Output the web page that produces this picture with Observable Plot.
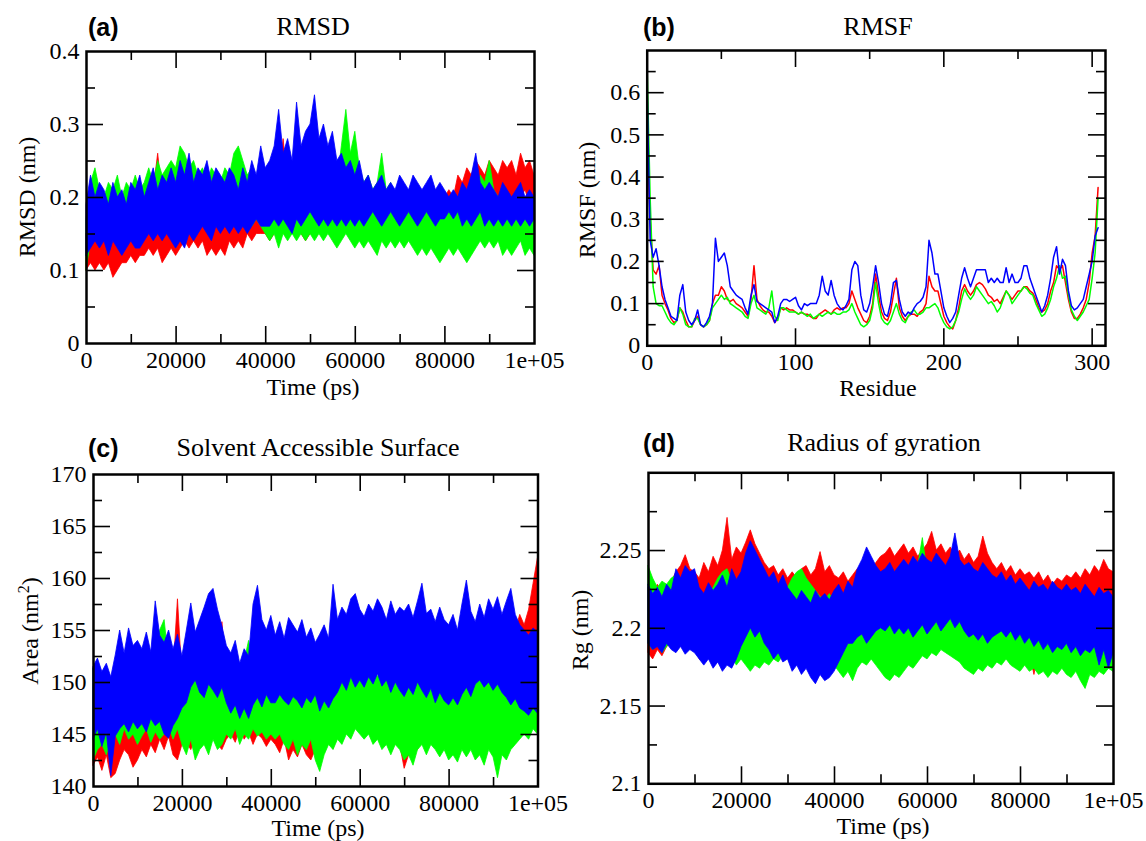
<!DOCTYPE html>
<html><head><meta charset="utf-8">
<script src="https://cdn.jsdelivr.net/npm/d3@7"></script>
<script src="https://cdn.jsdelivr.net/npm/@observablehq/plot@0.6"></script>
<style>
body{margin:0;background:#fff;}
#root{position:relative;width:1146px;height:841px;overflow:hidden;background:#fff;font-family:"Liberation Serif","Times New Roman",serif;color:#000;}
.p{position:absolute;}
.p svg{font-family:"Liberation Serif","Times New Roman",serif !important;}
.t{position:absolute;white-space:nowrap;line-height:1;transform:translate(-50%,-50%);}
.ttl{font-size:26px;}
.ax{font-size:24px;}
.yl{transform:translate(-50%,-50%) rotate(-90deg);}
.lt{position:absolute;white-space:nowrap;line-height:1;font-family:"Liberation Sans",Arial,sans-serif;font-weight:bold;font-size:25px;transform:translate(0,-50%);}
</style></head><body><div id="root"></div>
<script>
// ---------- shared axes ----------
const time = [0,1000,2000,3000,4000,5000,6000,7000,8000,9000,10000,11000,12000,13000,14000,15000,16000,17000,18000,19000,20000,21000,22000,23000,24000,25000,26000,27000,28000,29000,30000,31000,32000,33000,34000,35000,36000,37000,38000,39000,40000,41000,42000,43000,44000,45000,46000,47000,48000,49000,50000,51000,52000,53000,54000,55000,56000,57000,58000,59000,60000,61000,62000,63000,64000,65000,66000,67000,68000,69000,70000,71000,72000,73000,74000,75000,76000,77000,78000,79000,80000,81000,82000,83000,84000,85000,86000,87000,88000,89000,90000,91000,92000,93000,94000,95000,96000,97000,98000,99000,100000];
const residue = [0,2,4,6,8,10,12,14,16,18,20,22,24,26,28,30,32,34,36,38,40,42,44,46,48,50,52,54,56,58,60,62,64,66,68,70,72,74,76,78,80,82,84,86,88,90,92,94,96,98,100,102,104,106,108,110,112,114,116,118,120,122,124,126,128,130,132,134,136,138,140,142,144,146,148,150,152,154,156,158,160,162,164,166,168,170,172,174,176,178,180,182,184,186,188,190,192,194,196,198,200,202,204,206,208,210,212,214,216,218,220,222,224,226,228,230,232,234,236,238,240,242,244,246,248,250,252,254,256,258,260,262,264,266,268,270,272,274,276,278,280,282,284,286,288,290,292,294,296,298,300,302,304];

// ---------- (a) RMSD (nm): upper / lower extent per 1000 ps ----------
const rmsdRedHi = [0.15,0.14,0.16,0.15,0.14,0.13,0.14,0.15,0.13,0.15,0.16,
0.17,0.18,0.20,0.19,0.21,0.26,0.20,0.22,0.19,0.20,
0.19,0.21,0.20,0.19,0.21,0.20,0.19,0.20,0.18,0.20,
0.19,0.20,0.21,0.19,0.20,0.19,0.20,0.21,0.20,0.21,
0.20,0.21,0.22,0.28,0.21,0.22,0.25,0.21,0.20,0.21,
0.20,0.21,0.20,0.21,0.20,0.19,0.20,0.21,0.20,0.19,
0.20,0.21,0.19,0.20,0.21,0.20,0.21,0.20,0.21,0.20,
0.21,0.20,0.21,0.20,0.21,0.20,0.20,0.21,0.20,0.20,
0.21,0.20,0.23,0.22,0.24,0.23,0.25,0.24,0.23,0.25,
0.24,0.23,0.25,0.24,0.25,0.23,0.26,0.24,0.25,0.23];
const rmsdRedLo = [0.10,0.11,0.10,0.11,0.10,0.11,0.09,0.10,0.11,0.11,0.12,
0.11,0.12,0.12,0.13,0.12,0.13,0.11,0.12,0.13,0.12,
0.13,0.14,0.13,0.14,0.13,0.14,0.12,0.13,0.12,0.13,
0.12,0.14,0.13,0.14,0.13,0.15,0.14,0.15,0.15,0.15,
0.14,0.15,0.16,0.15,0.16,0.15,0.16,0.15,0.14,0.15,
0.15,0.16,0.15,0.16,0.15,0.16,0.15,0.16,0.15,0.16,
0.16,0.17,0.16,0.17,0.16,0.17,0.16,0.17,0.16,0.17,
0.17,0.16,0.17,0.16,0.17,0.16,0.17,0.16,0.15,0.16,
0.17,0.18,0.17,0.19,0.18,0.19,0.20,0.19,0.20,0.19,
0.20,0.19,0.20,0.19,0.20,0.19,0.20,0.21,0.19,0.20];
const rmsdGreenHi = [0.17,0.22,0.24,0.21,0.20,0.22,0.21,0.23,0.20,0.22,0.21,
0.23,0.21,0.22,0.24,0.22,0.25,0.23,0.24,0.25,0.24,
0.27,0.26,0.24,0.25,0.23,0.24,0.22,0.24,0.23,0.22,
0.24,0.23,0.26,0.27,0.25,0.23,0.24,0.22,0.23,0.21,
0.20,0.21,0.20,0.22,0.21,0.20,0.21,0.22,0.21,0.20,
0.21,0.20,0.22,0.21,0.23,0.22,0.27,0.32,0.26,0.29,
0.24,0.22,0.23,0.21,0.22,0.26,0.21,0.22,0.20,0.21,
0.20,0.21,0.20,0.19,0.21,0.20,0.19,0.18,0.19,0.18,
0.19,0.18,0.20,0.19,0.18,0.20,0.21,0.23,0.22,0.25,
0.21,0.20,0.19,0.20,0.19,0.20,0.18,0.19,0.18,0.17];
const rmsdGreenLo = [0.10,0.14,0.15,0.16,0.15,0.16,0.15,0.16,0.15,0.16,0.15,
0.16,0.15,0.16,0.17,0.16,0.17,0.16,0.17,0.16,0.17,
0.16,0.17,0.16,0.17,0.16,0.17,0.16,0.17,0.16,0.17,
0.17,0.16,0.17,0.16,0.17,0.17,0.16,0.17,0.16,0.15,
0.14,0.15,0.13,0.15,0.14,0.15,0.14,0.15,0.14,0.15,
0.14,0.15,0.14,0.15,0.14,0.13,0.14,0.15,0.14,0.13,
0.14,0.13,0.14,0.13,0.12,0.14,0.13,0.14,0.13,0.14,
0.13,0.14,0.13,0.12,0.13,0.12,0.13,0.12,0.11,0.12,
0.13,0.12,0.13,0.12,0.11,0.12,0.13,0.14,0.13,0.14,
0.13,0.14,0.12,0.13,0.12,0.13,0.14,0.12,0.13,0.12];
const rmsdBlueHi = [0.19,0.23,0.20,0.22,0.21,0.19,0.22,0.20,0.21,0.19,0.22,
0.21,0.23,0.20,0.22,0.24,0.21,0.23,0.22,0.24,0.22,
0.25,0.23,0.26,0.22,0.24,0.23,0.25,0.22,0.24,0.23,
0.22,0.24,0.23,0.21,0.24,0.22,0.25,0.23,0.27,0.24,
0.25,0.27,0.32,0.26,0.28,0.25,0.33,0.27,0.29,0.30,
0.34,0.28,0.30,0.27,0.29,0.25,0.26,0.24,0.25,0.23,
0.25,0.22,0.23,0.21,0.22,0.23,0.21,0.22,0.21,0.23,
0.22,0.21,0.23,0.22,0.21,0.22,0.23,0.21,0.22,0.21,
0.20,0.21,0.20,0.22,0.21,0.23,0.26,0.22,0.21,0.22,
0.21,0.20,0.22,0.21,0.20,0.21,0.22,0.20,0.21,0.20];
const rmsdBlueLo = [0.12,0.13,0.14,0.13,0.14,0.12,0.14,0.13,0.12,0.13,0.14,
0.13,0.13,0.14,0.15,0.14,0.15,0.14,0.15,0.14,0.13,
0.14,0.13,0.15,0.14,0.15,0.16,0.15,0.14,0.16,0.15,
0.16,0.15,0.16,0.15,0.16,0.15,0.16,0.17,0.16,0.16,
0.16,0.17,0.16,0.17,0.16,0.15,0.17,0.16,0.17,0.18,
0.17,0.16,0.17,0.16,0.17,0.16,0.17,0.16,0.17,0.16,
0.17,0.16,0.17,0.18,0.17,0.16,0.17,0.18,0.17,0.16,
0.17,0.18,0.17,0.16,0.17,0.18,0.17,0.16,0.17,0.17,
0.18,0.17,0.18,0.16,0.17,0.16,0.17,0.18,0.16,0.17,
0.16,0.17,0.16,0.17,0.16,0.17,0.16,0.17,0.16,0.17];

// ---------- (b) RMSF (nm) per residue ----------
const rmsfRed = [0.50,0.30,0.18,0.17,0.19,0.12,0.10,0.085,0.065,0.055,
0.06,0.09,0.08,0.06,0.045,0.045,0.06,0.07,0.05,0.045,
0.05,0.06,0.10,0.12,0.12,0.14,0.13,0.11,0.105,0.11,
0.10,0.095,0.09,0.08,0.07,0.11,0.19,0.11,0.095,0.085,
0.08,0.08,0.07,0.055,0.065,0.09,0.085,0.09,0.085,0.085,
0.08,0.075,0.08,0.075,0.075,0.07,0.065,0.065,0.075,0.08,
0.085,0.08,0.075,0.085,0.09,0.085,0.09,0.09,0.10,0.13,
0.11,0.09,0.075,0.06,0.055,0.07,0.10,0.17,0.12,0.08,
0.065,0.06,0.08,0.12,0.16,0.09,0.07,0.06,0.07,0.075,
0.075,0.07,0.08,0.085,0.10,0.165,0.14,0.13,0.13,0.10,
0.07,0.055,0.045,0.04,0.06,0.09,0.13,0.145,0.13,0.12,
0.13,0.145,0.15,0.145,0.135,0.12,0.115,0.105,0.11,0.10,
0.115,0.13,0.12,0.11,0.12,0.13,0.13,0.14,0.14,0.13,
0.125,0.11,0.09,0.08,0.085,0.10,0.13,0.15,0.19,0.18,
0.19,0.15,0.11,0.08,0.065,0.065,0.075,0.09,0.11,0.15,
0.22,0.26,0.375];
const rmsfGreen = [0.65,0.35,0.14,0.10,0.095,0.095,0.08,0.065,0.055,0.05,
0.06,0.09,0.075,0.05,0.045,0.045,0.065,0.065,0.05,0.045,
0.05,0.06,0.09,0.10,0.11,0.12,0.11,0.115,0.10,0.095,
0.09,0.085,0.08,0.07,0.065,0.10,0.12,0.09,0.085,0.08,
0.075,0.09,0.13,0.07,0.06,0.09,0.09,0.085,0.08,0.08,
0.08,0.075,0.08,0.075,0.07,0.075,0.065,0.07,0.075,0.07,
0.075,0.08,0.075,0.08,0.075,0.075,0.08,0.08,0.085,0.10,
0.08,0.065,0.05,0.045,0.05,0.06,0.09,0.15,0.10,0.065,
0.055,0.05,0.06,0.08,0.10,0.075,0.06,0.055,0.07,0.08,
0.085,0.075,0.075,0.08,0.09,0.09,0.095,0.10,0.09,0.07,
0.055,0.045,0.04,0.045,0.06,0.08,0.11,0.135,0.12,0.11,
0.12,0.14,0.13,0.12,0.11,0.10,0.105,0.095,0.08,0.09,
0.11,0.13,0.12,0.10,0.11,0.12,0.13,0.14,0.135,0.125,
0.12,0.10,0.085,0.07,0.075,0.09,0.11,0.14,0.16,0.19,
0.16,0.165,0.12,0.085,0.07,0.06,0.07,0.08,0.095,0.11,
0.16,0.22,0.35];
const rmsfBlue = [0.60,0.25,0.21,0.23,0.19,0.14,0.11,0.09,0.07,0.065,
0.06,0.12,0.145,0.08,0.06,0.05,0.06,0.085,0.05,0.045,
0.055,0.07,0.10,0.255,0.20,0.21,0.22,0.19,0.14,0.13,
0.12,0.115,0.11,0.09,0.075,0.12,0.145,0.105,0.10,0.095,
0.09,0.085,0.08,0.055,0.07,0.10,0.11,0.11,0.105,0.11,
0.115,0.095,0.085,0.10,0.095,0.10,0.10,0.10,0.12,0.165,
0.13,0.12,0.155,0.12,0.10,0.09,0.085,0.095,0.11,0.18,
0.20,0.19,0.12,0.085,0.08,0.10,0.14,0.19,0.15,0.10,
0.075,0.07,0.10,0.15,0.155,0.11,0.08,0.07,0.08,0.075,
0.09,0.10,0.105,0.115,0.14,0.25,0.22,0.17,0.17,0.13,
0.09,0.07,0.055,0.065,0.08,0.12,0.16,0.185,0.16,0.14,
0.16,0.18,0.18,0.18,0.18,0.15,0.16,0.15,0.16,0.15,
0.15,0.185,0.15,0.17,0.15,0.15,0.16,0.19,0.19,0.16,
0.14,0.12,0.10,0.08,0.095,0.12,0.16,0.21,0.235,0.17,
0.205,0.19,0.13,0.095,0.085,0.09,0.10,0.11,0.14,0.17,
0.20,0.26,0.28];

// ---------- (c) SASA area (nm^2): upper / lower extent per 1000 ps ----------
const sasRedHi = [145.0,146.0,144.5,145.5,144.0,145.5,146.5,147.0,148.5,146.0,147.0,
146.5,147.5,146.0,148.0,147.0,148.5,150.0,151.0,158.0,150.5,
149.0,150.5,149.5,150.0,151.0,149.5,150.5,149.0,155.8,150.0,
149.0,150.0,151.0,149.5,150.5,149.0,150.0,149.5,150.5,149.0,
150.0,149.0,150.5,149.5,150.0,149.0,148.5,150.0,149.0,148.5,
149.5,148.5,150.0,149.0,150.5,151.0,150.0,151.5,150.5,151.0,
150.0,151.0,150.5,150.0,151.0,150.5,149.5,150.5,150.0,152.5,
153.0,151.0,150.0,151.5,150.5,150.0,151.0,150.0,149.5,150.5,
150.0,151.0,150.5,151.5,150.5,152.0,151.0,155.5,152.0,151.5,
152.0,151.0,152.5,151.5,155.0,156.5,155.5,157.0,159.5,162.0];
const sasRedLo = [142.0,142.8,141.5,143.0,140.8,141.2,142.5,143.5,143.0,141.8,142.5,
143.5,142.8,144.0,143.2,144.5,143.5,144.8,143.0,142.5,144.0,
144.2,143.5,144.6,143.8,144.5,143.6,144.8,144.0,143.5,144.5,
145.0,144.2,145.5,144.5,145.2,144.0,145.0,144.6,143.8,144.5,
144.0,143.2,144.5,142.5,143.5,142.8,144.0,143.0,142.5,143.5,
144.0,143.5,144.8,143.6,145.0,144.5,145.5,144.8,145.8,146.2,
145.5,146.5,145.0,146.0,144.8,145.5,144.5,145.2,144.0,141.7,
143.0,144.5,143.5,144.8,144.0,145.0,144.2,145.5,144.5,145.0,
144.0,145.2,144.5,143.8,144.6,145.5,144.8,146.0,145.2,146.5,
145.8,146.5,147.5,148.0,150.0,152.0,153.0,154.0,154.5,155.0];
const sasGreenHi = [151.3,148.0,147.5,149.5,150.0,148.5,149.0,150.5,148.0,149.5,148.5,
150.0,149.0,150.5,151.0,155.0,156.0,152.0,150.0,151.5,149.5,
150.5,150.0,151.0,150.5,151.5,150.0,151.0,149.5,150.5,149.0,
150.0,149.5,151.0,152.0,154.0,151.0,150.0,151.5,150.5,150.0,
151.0,150.0,151.5,150.5,151.0,150.0,151.5,150.5,150.0,151.0,
150.5,152.6,151.0,150.0,151.5,151.0,152.0,151.0,151.5,152.0,
151.0,152.0,151.5,150.5,151.5,152.4,151.0,152.0,152.5,151.0,
150.5,151.5,152.8,151.0,150.5,151.5,150.0,151.0,150.5,149.5,
150.0,149.5,150.5,151.0,150.0,151.5,150.5,151.0,150.0,151.5,
150.5,151.0,150.0,149.5,150.5,149.0,148.5,147.5,148.0,148.5];
const sasGreenLo = [142.5,143.5,144.0,143.0,144.5,145.0,144.0,145.5,144.5,145.0,144.0,
144.8,145.5,144.2,145.2,144.5,145.0,145.8,144.5,145.5,144.0,
143.0,144.5,142.5,143.5,144.0,143.0,144.5,143.5,144.0,145.0,
144.5,145.5,144.0,145.0,144.5,145.5,144.8,145.2,144.5,145.0,
144.5,145.0,144.0,143.5,144.5,143.0,144.0,143.5,144.5,142.5,
141.4,143.0,144.0,143.5,144.5,144.0,145.0,144.5,145.5,145.0,
144.5,145.0,144.0,144.5,143.5,144.0,143.0,144.0,143.5,142.5,
143.0,142.0,143.5,144.0,143.0,144.0,143.5,142.8,143.5,142.5,
143.0,142.3,143.5,142.8,143.5,142.5,143.0,142.0,143.5,142.8,
140.8,143.0,142.5,143.5,144.0,144.5,145.0,144.5,145.5,145.0];
const sasBlueHi = [151.5,152.3,151.0,151.8,150.5,152.6,155.0,152.8,155.2,153.5,154.0,
153.2,154.8,152.9,157.8,154.5,153.8,155.0,153.2,154.6,152.5,
155.0,157.6,154.8,156.0,157.2,158.5,159.0,157.0,155.4,153.5,
152.8,154.0,151.8,153.2,152.5,157.5,159.3,156.0,155.0,156.4,
154.5,155.8,154.2,156.2,155.5,154.8,156.0,154.3,155.2,153.8,
154.6,155.5,154.2,159.4,156.0,157.2,156.5,158.0,158.5,157.0,
156.3,157.5,156.8,158.0,157.2,156.0,157.8,156.5,157.2,156.8,
157.5,156.2,157.8,159.5,156.6,157.0,155.8,157.2,156.0,155.5,
156.5,155.0,157.5,159.8,156.8,155.8,157.5,156.2,158.0,157.0,
158.2,156.5,157.8,159.0,156.5,155.5,155.0,154.5,155.2,154.8];
const sasBlueLo = [144.5,145.5,143.8,145.2,141.0,144.8,145.5,146.0,145.2,146.2,145.5,
146.0,145.2,146.5,145.8,146.2,145.0,144.6,145.8,146.5,147.5,
148.0,149.5,150.2,149.0,148.5,149.8,149.2,148.5,149.5,148.0,
147.0,147.8,146.5,147.5,146.5,147.8,148.5,147.6,148.8,148.0,
148.0,148.8,148.2,147.8,148.6,148.2,147.5,148.5,148.0,148.8,
147.2,148.2,147.5,148.4,149.0,150.0,149.2,150.5,149.5,150.2,
149.5,150.5,149.8,150.8,149.6,150.2,149.0,150.0,149.2,148.6,
149.5,148.8,150.0,149.2,148.5,149.4,148.0,149.0,148.2,147.8,
148.5,147.8,148.8,149.5,148.6,149.8,150.2,149.5,150.0,149.2,
149.8,149.0,148.5,147.8,148.4,147.5,147.2,146.8,147.5,147.0];

// ---------- (d) Radius of gyration (nm): upper / lower extent per 1000 ps ----------
const rgRedHi = [2.226,2.220,2.228,2.222,2.226,2.230,2.236,2.240,2.247,2.238,2.236,
2.232,2.242,2.236,2.246,2.240,2.250,2.271,2.244,2.252,2.248,
2.255,2.263,2.254,2.248,2.242,2.238,2.240,2.234,2.238,2.232,
2.236,2.232,2.238,2.240,2.234,2.238,2.249,2.236,2.240,2.234,
2.232,2.236,2.230,2.234,2.238,2.240,2.244,2.238,2.242,2.246,
2.248,2.252,2.246,2.250,2.254,2.248,2.252,2.246,2.250,2.254,
2.262,2.250,2.254,2.248,2.252,2.246,2.250,2.244,2.248,2.242,
2.246,2.259,2.248,2.242,2.238,2.242,2.236,2.240,2.234,2.238,
2.234,2.236,2.232,2.236,2.230,2.234,2.228,2.232,2.230,2.234,
2.232,2.236,2.232,2.238,2.234,2.240,2.236,2.244,2.238,2.236];
const rgRedLo = [2.184,2.180,2.186,2.182,2.188,2.190,2.194,2.192,2.196,2.194,2.190,
2.180,2.178,2.184,2.190,2.194,2.198,2.196,2.200,2.198,2.202,
2.204,2.200,2.206,2.202,2.204,2.200,2.204,2.202,2.206,2.204,
2.206,2.202,2.208,2.204,2.206,2.202,2.206,2.204,2.200,2.196,
2.194,2.190,2.194,2.188,2.192,2.196,2.194,2.198,2.196,2.200,
2.202,2.204,2.206,2.204,2.208,2.206,2.210,2.206,2.208,2.206,
2.208,2.204,2.206,2.208,2.204,2.206,2.202,2.204,2.200,2.202,
2.198,2.200,2.196,2.198,2.194,2.196,2.192,2.194,2.190,2.192,
2.188,2.184,2.170,2.186,2.188,2.192,2.190,2.194,2.192,2.196,
2.194,2.198,2.196,2.200,2.198,2.204,2.206,2.210,2.208,2.206];
const rgGreenHi = [2.240,2.232,2.226,2.230,2.228,2.232,2.234,2.230,2.226,2.222,2.224,
2.220,2.216,2.222,2.226,2.232,2.236,2.238,2.230,2.226,2.222,
2.210,2.206,2.210,2.214,2.212,2.216,2.214,2.218,2.222,2.226,
2.232,2.236,2.238,2.232,2.228,2.224,2.220,2.218,2.222,2.216,
2.212,2.216,2.214,2.218,2.216,2.212,2.214,2.218,2.212,2.210,
2.208,2.206,2.210,2.214,2.212,2.220,2.228,2.240,2.258,2.236,
2.224,2.220,2.214,2.212,2.210,2.208,2.212,2.210,2.206,2.208,
2.206,2.210,2.204,2.208,2.202,2.206,2.200,2.204,2.200,2.202,
2.200,2.198,2.202,2.198,2.200,2.196,2.200,2.198,2.196,2.200,
2.198,2.196,2.200,2.196,2.198,2.194,2.198,2.196,2.200,2.198];
const rgGreenLo = [2.190,2.186,2.190,2.184,2.188,2.192,2.190,2.194,2.188,2.186,2.190,
2.184,2.188,2.182,2.186,2.180,2.184,2.178,2.182,2.176,2.180,
2.176,2.172,2.176,2.174,2.178,2.176,2.180,2.178,2.182,2.180,
2.184,2.186,2.182,2.186,2.184,2.188,2.182,2.186,2.180,2.176,
2.172,2.168,2.172,2.166,2.174,2.178,2.176,2.180,2.176,2.172,
2.168,2.166,2.170,2.168,2.172,2.176,2.174,2.178,2.182,2.180,
2.184,2.182,2.186,2.184,2.182,2.180,2.178,2.174,2.172,2.170,
2.174,2.172,2.176,2.174,2.178,2.176,2.180,2.176,2.174,2.172,
2.176,2.172,2.174,2.170,2.172,2.168,2.172,2.170,2.174,2.170,
2.168,2.172,2.166,2.161,2.170,2.168,2.172,2.170,2.174,2.172];
const rgBlueHi = [2.228,2.222,2.226,2.220,2.228,2.224,2.238,2.232,2.240,2.236,2.238,
2.226,2.222,2.229,2.224,2.228,2.234,2.226,2.238,2.231,2.236,
2.248,2.256,2.250,2.244,2.238,2.232,2.236,2.228,2.234,2.226,
2.222,2.218,2.224,2.220,2.216,2.224,2.219,2.222,2.218,2.224,
2.228,2.222,2.230,2.226,2.238,2.244,2.252,2.246,2.240,2.236,
2.238,2.242,2.236,2.240,2.244,2.240,2.246,2.242,2.248,2.244,
2.242,2.248,2.244,2.240,2.246,2.261,2.244,2.240,2.242,2.238,
2.236,2.242,2.238,2.234,2.232,2.236,2.230,2.234,2.228,2.232,
2.228,2.224,2.230,2.226,2.228,2.224,2.230,2.226,2.224,2.228,
2.224,2.226,2.222,2.228,2.224,2.220,2.226,2.222,2.224,2.220];
const rgBlueLo = [2.190,2.186,2.188,2.184,2.190,2.186,2.184,2.188,2.183,2.186,2.184,
2.180,2.176,2.180,2.174,2.178,2.172,2.176,2.174,2.180,2.188,
2.194,2.200,2.194,2.198,2.190,2.186,2.180,2.184,2.178,2.180,
2.172,2.176,2.170,2.174,2.168,2.164,2.170,2.166,2.168,2.172,
2.178,2.184,2.190,2.190,2.194,2.196,2.190,2.194,2.198,2.200,
2.198,2.202,2.196,2.200,2.196,2.200,2.194,2.198,2.202,2.196,
2.200,2.204,2.198,2.202,2.206,2.200,2.204,2.198,2.194,2.196,
2.192,2.196,2.190,2.194,2.196,2.198,2.194,2.198,2.192,2.196,
2.190,2.194,2.188,2.192,2.186,2.190,2.184,2.188,2.186,2.190,
2.184,2.188,2.182,2.186,2.184,2.188,2.176,2.186,2.174,2.184];

// ---------- tick values / labels ----------
const timeTickLabels = [0,20000,40000,60000,80000,100000];
const timeMajor = [20000,40000,60000,80000];
const timeMinor = [10000,30000,50000,70000,90000];
const rmsdTickLabels = [0,0.1,0.2,0.3,0.4];
const rmsdMajor = [0.1,0.2,0.3];
const rmsdMinor = [0.05,0.15,0.25,0.35];
const resTickLabels = [0,100,200,300];
const resMajor = [100,200,300];
const resMinor = [50,150,250];
const rmsfTickLabels = [0,0.1,0.2,0.3,0.4,0.5,0.6];
const rmsfMajor = [0.1,0.2,0.3,0.4,0.5,0.6];
const rmsfMinor = [0.05,0.15,0.25,0.35,0.45,0.55,0.65];
const areaTickLabels = [140,145,150,155,160,165,170];
const areaMajor = [145,150,155,160,165];
const areaMinor = [142.5,147.5,152.5,157.5,162.5,167.5];
const rgTickLabels = [2.1,2.15,2.2,2.25];
const rgMajor = [2.15,2.2,2.25];
const rgMinor = [2.125,2.175,2.225,2.275];

// ---------- drawing ----------
const RED = "#ff0000", GREEN = "#00ff00", BLUE = "#0000ff";
const SERIF = "'Liberation Serif','Times New Roman',serif";
const root = document.getElementById("root");
const timeFmt = d => d === 100000 ? "1e+05" : String(d);
const numFmt = d => String(d);

function band(lo, hi, color) {
  const rows = time.map((t, i) => ({t, lo: lo[i], hi: hi[i]}));
  return Plot.areaY(rows, {x: "t", y1: "lo", y2: "hi", fill: color, stroke: color, strokeWidth: 0.8});
}
function rmsfLine(vals, color) {
  const rows = residue.map((r, i) => ({r, v: vals[i]}));
  return Plot.line(rows, {x: "r", y: "v", stroke: color, strokeWidth: 1.5});
}

function panel(o) {
  const {width, height, m} = o;
  const W = width - m.left - m.right, H = height - m.top - m.bottom;
  const MJ = 17, MN = 9, k = {stroke: "black", strokeWidth: 1.6};
  const font = {fontFamily: SERIF, fontSize: 24};
  return Plot.plot({
    width, height,
    marginTop: m.top, marginRight: m.right, marginBottom: m.bottom, marginLeft: m.left,
    style: `font-family: ${SERIF}; font-size: 24px; background: transparent; overflow: visible; color: black;`,
    x: {domain: o.xDomain, label: null},
    y: {domain: o.yDomain, label: null},
    marks: [
      ...o.marks,
      Plot.tickX(o.xMaj, {x: d => d, insetTop: H - MJ, ...k}),
      Plot.tickX(o.xMaj, {x: d => d, insetBottom: H - MJ, ...k}),
      Plot.tickX(o.xMin, {x: d => d, insetTop: H - MN, ...k}),
      Plot.tickX(o.xMin, {x: d => d, insetBottom: H - MN, ...k}),
      Plot.tickY(o.yMaj, {y: d => d, insetRight: W - MJ, ...k}),
      Plot.tickY(o.yMaj, {y: d => d, insetLeft: W - MJ, ...k}),
      Plot.tickY(o.yMin, {y: d => d, insetRight: W - MN, ...k}),
      Plot.tickY(o.yMin, {y: d => d, insetLeft: W - MN, ...k}),
      Plot.axisX(o.xLab, {tickSize: 0, tickPadding: 7, tickFormat: o.xFmt, label: null, ...font}),
      Plot.axisY(o.yLab, {tickSize: 0, tickPadding: 7, tickFormat: o.yFmt, label: null, ...font}),
      Plot.frame({stroke: "black", strokeWidth: 2.5})
    ]
  });
}

function place(node, left, top, w, h) {
  const d = document.createElement("div");
  d.className = "p";
  d.style.left = left + "px"; d.style.top = top + "px";
  d.style.width = w + "px"; d.style.height = h + "px";
  d.appendChild(node);
  root.appendChild(d);
}
function txt(html, x, y, cls) {
  const d = document.createElement("div");
  d.className = cls;
  d.style.left = x + "px"; d.style.top = y + "px";
  d.innerHTML = html;
  root.appendChild(d);
}

// (a)
place(panel({
  width: 573, height: 420, m: {top: 51, right: 39, bottom: 77, left: 86},
  xDomain: [0, 100000], yDomain: [0, 0.4],
  xMaj: timeMajor, xMin: timeMinor, yMaj: rmsdMajor, yMin: rmsdMinor,
  xLab: timeTickLabels, yLab: rmsdTickLabels, xFmt: timeFmt, yFmt: numFmt,
  marks: [band(rmsdRedLo, rmsdRedHi, RED), band(rmsdGreenLo, rmsdGreenHi, GREEN), band(rmsdBlueLo, rmsdBlueHi, BLUE)]
}), 0, 0, 573, 420);

// (b)
place(panel({
  width: 573, height: 420, m: {top: 50, right: 41, bottom: 74.7, left: 73.7},
  xDomain: [0, 309], yDomain: [0, 0.7],
  xMaj: resMajor, xMin: resMinor, yMaj: rmsfMajor, yMin: rmsfMinor,
  xLab: resTickLabels, yLab: rmsfTickLabels, xFmt: numFmt, yFmt: numFmt,
  marks: [rmsfLine(rmsfRed, RED), rmsfLine(rmsfGreen, GREEN), rmsfLine(rmsfBlue, BLUE)]
}), 573, 0, 573, 420);

// (c)
place(panel({
  width: 573, height: 421, m: {top: 54, right: 35.5, bottom: 55, left: 93},
  xDomain: [0, 100000], yDomain: [140, 170],
  xMaj: timeMajor, xMin: timeMinor, yMaj: areaMajor, yMin: areaMinor,
  xLab: timeTickLabels, yLab: areaTickLabels, xFmt: timeFmt, yFmt: numFmt,
  marks: [band(sasRedLo, sasRedHi, RED), band(sasGreenLo, sasGreenHi, GREEN), band(sasBlueLo, sasBlueHi, BLUE)]
}), 0, 420, 573, 421);

// (d)
place(panel({
  width: 573, height: 421, m: {top: 52.3, right: 33, bottom: 57.7, left: 75},
  xDomain: [0, 100000], yDomain: [2.1, 2.3],
  xMaj: timeMajor, xMin: timeMinor, yMaj: rgMajor, yMin: rgMinor,
  xLab: timeTickLabels, yLab: rgTickLabels, xFmt: timeFmt, yFmt: numFmt,
  marks: [band(rgRedLo, rgRedHi, RED), band(rgGreenLo, rgGreenHi, GREEN), band(rgBlueLo, rgBlueHi, BLUE)]
}), 573, 420, 573, 421);

// text
txt("(a)", 88, 27, "lt");
txt("RMSD", 313, 27, "t ttl");
txt("RMSD (nm)", 27, 197, "t ax yl");
txt("Time (ps)", 313, 387, "t ax");

txt("(b)", 643, 27, "lt");
txt("RMSF", 878, 27, "t ttl");
txt("RMSF (nm)", 587, 200, "t ax yl");
txt("Residue", 878, 388, "t ax");

txt("(c)", 88, 448, "lt");
txt("Solvent Accessible Surface", 318, 448, "t ttl");
txt("Area (nm<sup style=\"font-size:16px;vertical-align:0.55em;line-height:0\">2</sup>)", 30, 631, "t ax yl");
txt("Time (ps)", 318, 828, "t ax");

txt("(d)", 643, 443, "lt");
txt("Radius of gyration", 884, 443, "t ttl");
txt("Rg (nm)", 580, 630, "t ax yl");
txt("Time (ps)", 883, 826, "t ax");
</script>
</body></html>
